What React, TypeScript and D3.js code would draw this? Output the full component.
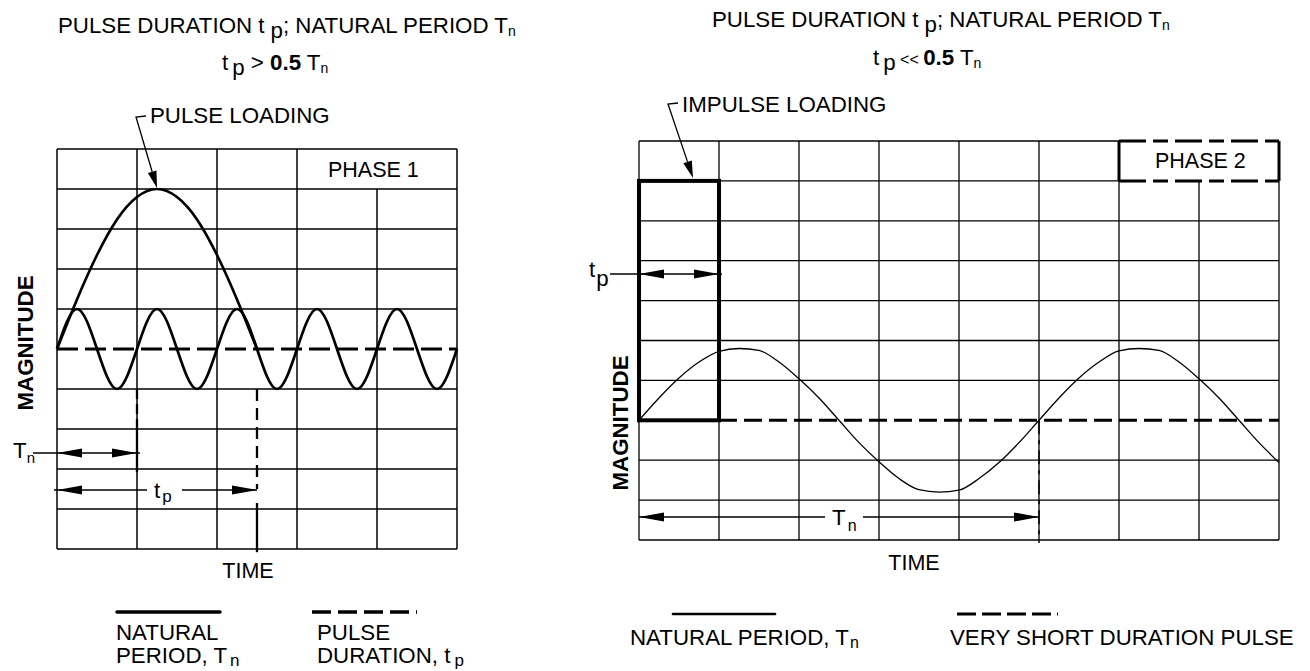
import * as d3 from "d3";

const FONT = "'Liberation Sans', Arial, Helvetica, sans-serif";
const FS = 22.3; // titles, leaders, legends
const FS_IN = 21.5; // labels inside the plots

// ---- left panel : tp > 0.5 Tn (grid units: columns of time, rows of magnitude)
const leftCols = [0, 1, 2, 3, 4, 5];
const leftRows = [-5, -4, -3, -2, -1, 0, 1, 2, 3, 4, 5];
const naturalT = [0, 0.25, 0.5, 0.75, 1, 1.25, 1.5, 1.75, 2, 2.25, 2.5, 2.75, 3, 3.25, 3.5, 3.75, 4, 4.25, 4.5, 4.75, 5];
const naturalMag = [0, 1, 0, -1, 0, 1, 0, -1, 0, 1, 0, -1, 0, 1, 0, -1, 0, 1, 0, -1, 0];
const pulseT = [0, 0.25, 0.5, 0.75, 1, 1.25, 1.5, 1.75, 2, 2.25, 2.5];
const pulseMag = [0, 1.24, 2.35, 3.24, 3.8, 4, 3.8, 3.24, 2.35, 1.24, 0];
const leftTn = 1;
const leftTp = 2.5;

// ---- right panel : tp << 0.5 Tn
const rightCols = [0, 1, 2, 3, 4, 5, 6, 7, 8];
const rightRows = [-3, -2, -1, 0, 1, 2, 3, 4, 5, 6, 7];
const responseT = [0, 0.25, 0.5, 0.75, 1, 1.25, 1.5, 1.75, 2, 2.25, 2.5, 2.75, 3, 3.25, 3.5, 3.75, 4, 4.25, 4.5, 4.75, 5, 5.25, 5.5, 5.75, 6, 6.25, 6.5, 6.75, 7, 7.25, 7.5, 7.75, 8];
const responseMag = [0, 0.56, 1.06, 1.46, 1.73, 1.8, 1.75, 1.46, 1.04, 0.56, 0, -0.56, -1.04, -1.46, -1.74, -1.8, -1.75, -1.46, -1.06, -0.56, 0, 0.56, 1.06, 1.46, 1.74, 1.8, 1.75, 1.46, 1.04, 0.56, 0, -0.56, -1.06];
const rightTp = 1;
const rightTn = 5;
const impulseMag = 6;

const xL = d3.scaleLinear().domain([0, 5]).range([57, 457]);
const yL = d3.scaleLinear().domain([-5, 5]).range([549, 149]);
const xR = d3.scaleLinear().domain([0, 8]).range([639, 1279]);
const yR = d3.scaleLinear().domain([-3, 7]).range([540, 141]);

function arrow(tipX: number, tipY: number, dir: number, len = 25, h = 4.5) {
  return `M${tipX},${tipY}L${tipX - dir * len},${tipY - h}L${tipX - dir * len},${tipY + h}Z`;
}

function leader(x0: number, y0: number, x1: number, y1: number, len = 17, h = 4.5) {
  const a = Math.atan2(y1 - y0, x1 - x0);
  const bx = x1 - len * Math.cos(a), by = y1 - len * Math.sin(a);
  const px = -Math.sin(a) * h, py = Math.cos(a) * h;
  return (
    <g>
      <path d={`M${x0 + 10},${y0 - 1}L${x0},${y0}L${bx},${by}`} fill="none" stroke="#000" strokeWidth={1.3} />
      <path d={`M${x1},${y1}L${bx + px},${by + py}L${bx - px},${by - py}Z`} fill="#000" />
    </g>
  );
}

function LeftPanel() {
  const natLine = d3.line<number>().x((_, i) => xL(naturalT[i])).y(d => yL(d)).curve(d3.curveNatural);
  const pulseLine = d3.line<number>().x((_, i) => xL(pulseT[i])).y(d => yL(d)).curve(d3.curveNatural);
  const x0 = xL(0), x1 = xL(5), yTop = yL(5), yBot = yL(-5);
  return (
    <g>
      <text x={58} y={33} fontSize={FS}>
        PULSE DURATION t<tspan dx={6} dy={5}>p</tspan>
        <tspan dy={-5}>; NATURAL PERIOD T</tspan>
        <tspan dy={3} fontSize={14}>n</tspan>
      </text>
      <text x={222} y={70} fontSize={FS}>
        t<tspan dx={4} dy={5}>p</tspan>
        <tspan dy={-5}> &gt; </tspan>
        <tspan fontWeight="bold">0.5</tspan>
        <tspan> T</tspan>
        <tspan dy={3} fontSize={14}>n</tspan>
      </text>
      <text x={150} y={123} fontSize={FS}>PULSE LOADING</text>
      {leader(136, 117, 157, 188)}

      {leftCols.map(c => (
        <line key={"v" + c} x1={xL(c)} x2={xL(c)} y1={c === 4 ? yL(4) : yTop} y2={yBot} stroke="#000" strokeWidth={1.5} />
      ))}
      {leftRows.filter(r => r !== 0).map(r => (
        <line key={"h" + r} x1={x0} x2={x1} y1={yL(r)} y2={yL(r)} stroke="#000" strokeWidth={1.5} />
      ))}
      <text x={328} y={177} fontSize={FS_IN}>PHASE 1</text>

      <line x1={x0} x2={x1} y1={yL(0)} y2={yL(0)} stroke="#000" strokeWidth={3} strokeDasharray="21,7" />
      <path d={natLine(naturalMag) || ""} fill="none" stroke="#000" strokeWidth={2.7} />
      <path d={pulseLine(pulseMag) || ""} fill="none" stroke="#000" strokeWidth={2.7} />

      {/* Tn marker */}
      <line x1={xL(leftTn)} x2={xL(leftTn)} y1={yL(-1)} y2={yL(-2)} stroke="#000" strokeWidth={2.3} strokeDasharray="10,5" />
      <line x1={xL(leftTn)} x2={xL(leftTn)} y1={yL(-2)} y2={yL(-3.08)} stroke="#000" strokeWidth={2.3} />
      <line x1={33} x2={140} y1={453} y2={453} stroke="#000" strokeWidth={1.3} />
      <path d={arrow(xL(0), 453, -1)} fill="#000" />
      <path d={arrow(xL(leftTn), 453, 1)} fill="#000" />
      <text x={13} y={458} fontSize={FS}>T<tspan dy={5} fontSize={15}>n</tspan></text>

      {/* tp marker */}
      <line x1={xL(leftTp)} x2={xL(leftTp)} y1={yL(-1)} y2={yL(-3.5)} stroke="#000" strokeWidth={2.3} strokeDasharray="12,7" />
      <line x1={xL(leftTp)} x2={xL(leftTp)} y1={yL(-3.85)} y2={yL(-5.08)} stroke="#000" strokeWidth={2.3} />
      <line x1={54} x2={147} y1={490} y2={490} stroke="#000" strokeWidth={1.3} />
      <line x1={182} x2={xL(leftTp)} y1={490} y2={490} stroke="#000" strokeWidth={1.3} />
      <path d={arrow(xL(0), 490, -1)} fill="#000" />
      <path d={arrow(xL(leftTp), 490, 1)} fill="#000" />
      <text x={154} y={498} fontSize={FS}>t<tspan dx={2} dy={4} fontSize={17}>p</tspan></text>

      <text transform="translate(33,343) rotate(-90)" textAnchor="middle" fontSize={22.3} fontWeight="bold">MAGNITUDE</text>
      <text x={248} y={578} textAnchor="middle" fontSize={FS_IN}>TIME</text>

      {/* legend */}
      <line x1={117} x2={220} y1={612} y2={612} stroke="#000" strokeWidth={3.5} strokeLinecap="round" />
      <line x1={312} x2={417} y1={612} y2={612} stroke="#000" strokeWidth={3.5} strokeDasharray="19,7" />
      <text x={116} y={640} fontSize={FS}>NATURAL</text>
      <text x={116} y={663} fontSize={FS}>PERIOD, T<tspan dx={3} dy={3} fontSize={17}>n</tspan></text>
      <text x={317} y={640} fontSize={FS}>PULSE</text>
      <text x={317} y={663} fontSize={FS}>DURATION, t<tspan dx={4} dy={3} fontSize={17}>p</tspan></text>
    </g>
  );
}

function RightPanel() {
  const respLine = d3.line<number>().x((_, i) => xR(responseT[i])).y(d => yR(d)).curve(d3.curveMonotoneX);
  const x0 = xR(0), x1 = xR(8), yTop = yR(7), yBot = yR(-3);
  return (
    <g>
      <text x={712} y={27} fontSize={FS}>
        PULSE DURATION t<tspan dx={6} dy={5}>p</tspan>
        <tspan dy={-5}>; NATURAL PERIOD T</tspan>
        <tspan dy={3} fontSize={14}>n</tspan>
      </text>
      <text x={873} y={65} fontSize={FS}>
        t<tspan dx={4} dy={5}>p</tspan>
        <tspan dy={-5} fontSize={16}> &lt;&lt; </tspan>
        <tspan fontWeight="bold">0.5</tspan>
        <tspan> T</tspan>
        <tspan dy={3} fontSize={14}>n</tspan>
      </text>
      <text x={682} y={112} fontSize={FS}>IMPULSE LOADING</text>
      {leader(668, 104, 693, 178)}

      {rightCols.map(c => (
        <line key={"v" + c} x1={xR(c)} x2={xR(c)} y1={c >= 6 ? yR(6) : yTop} y2={yBot} stroke="#000" strokeWidth={1.3} />
      ))}
      {rightRows.filter(r => r !== 0).map(r => (
        <line key={"h" + r} x1={x0} x2={r >= 6 ? xR(6) : x1} y1={yR(r)} y2={yR(r)} stroke="#000" strokeWidth={1.3} />
      ))}

      {/* PHASE 2 box */}
      <line x1={xR(6)} x2={xR(6)} y1={yR(7)} y2={yR(6)} stroke="#000" strokeWidth={3} />
      <line x1={xR(8)} x2={xR(8)} y1={yR(7)} y2={yR(6)} stroke="#000" strokeWidth={3} />
      <line x1={xR(6)} x2={xR(8)} y1={yR(7)} y2={yR(7)} stroke="#000" strokeWidth={3} strokeDasharray="27,7,15,7" />
      <line x1={xR(6)} x2={xR(8)} y1={yR(6)} y2={yR(6)} stroke="#000" strokeWidth={3} strokeDasharray="27,7,15,7" />
      <text x={1155} y={168} fontSize={FS_IN}>PHASE 2</text>

      <line x1={xR(rightTp)} x2={x1} y1={yR(0)} y2={yR(0)} stroke="#000" strokeWidth={3} strokeDasharray="18,7" />
      <path d={respLine(responseMag) || ""} fill="none" stroke="#000" strokeWidth={1.3} />

      {/* impulse box */}
      <rect x={xR(0)} y={yR(impulseMag)} width={xR(rightTp) - xR(0)} height={yR(0) - yR(impulseMag)} fill="none" stroke="#000" strokeWidth={4} />

      {/* tp marker */}
      <line x1={610} x2={722} y1={274} y2={274} stroke="#000" strokeWidth={1.3} />
      <path d={arrow(xR(0), 274, -1)} fill="#000" />
      <path d={arrow(xR(rightTp), 274, 1)} fill="#000" />
      <text x={589} y={277} fontSize={FS}>t<tspan dx={1} dy={9}>p</tspan></text>

      {/* Tn marker */}
      <line x1={xR(rightTn)} x2={xR(rightTn)} y1={yR(0)} y2={543} stroke="#000" strokeWidth={1.5} strokeDasharray="14,6,4,6" />
      <line x1={x0} x2={825} y1={517} y2={517} stroke="#000" strokeWidth={1.3} />
      <line x1={863} x2={xR(rightTn)} y1={517} y2={517} stroke="#000" strokeWidth={1.3} />
      <path d={arrow(xR(0), 517, -1)} fill="#000" />
      <path d={arrow(xR(rightTn), 517, 1)} fill="#000" />
      <text x={832} y={525} fontSize={FS}>T<tspan dx={2} dy={6} fontSize={16}>n</tspan></text>

      <text transform="translate(628,423) rotate(-90)" textAnchor="middle" fontSize={22.3} fontWeight="bold">MAGNITUDE</text>
      <text x={914} y={570} textAnchor="middle" fontSize={FS_IN}>TIME</text>

      {/* legend */}
      <line x1={673} x2={775} y1={614} y2={614} stroke="#000" strokeWidth={2.7} strokeLinecap="round" />
      <line x1={957} x2={1058} y1={614} y2={614} stroke="#000" strokeWidth={3} strokeDasharray="19,6" />
      <text x={630} y={645} fontSize={FS}>NATURAL PERIOD, T<tspan dx={1} dy={3} fontSize={16}>n</tspan></text>
      <text x={950} y={645} fontSize={FS}>VERY SHORT DURATION PULSE</text>
    </g>
  );
}

export default function App() {
  return (
    <svg
      width={1310}
      height={671}
      style={{ position: "absolute", left: 0, top: 0, background: "#fff" }}
      fontFamily={FONT}
      fill="#000"
    >
      <rect width={1310} height={671} fill="#fff" />
      <LeftPanel />
      <RightPanel />
    </svg>
  );
}
